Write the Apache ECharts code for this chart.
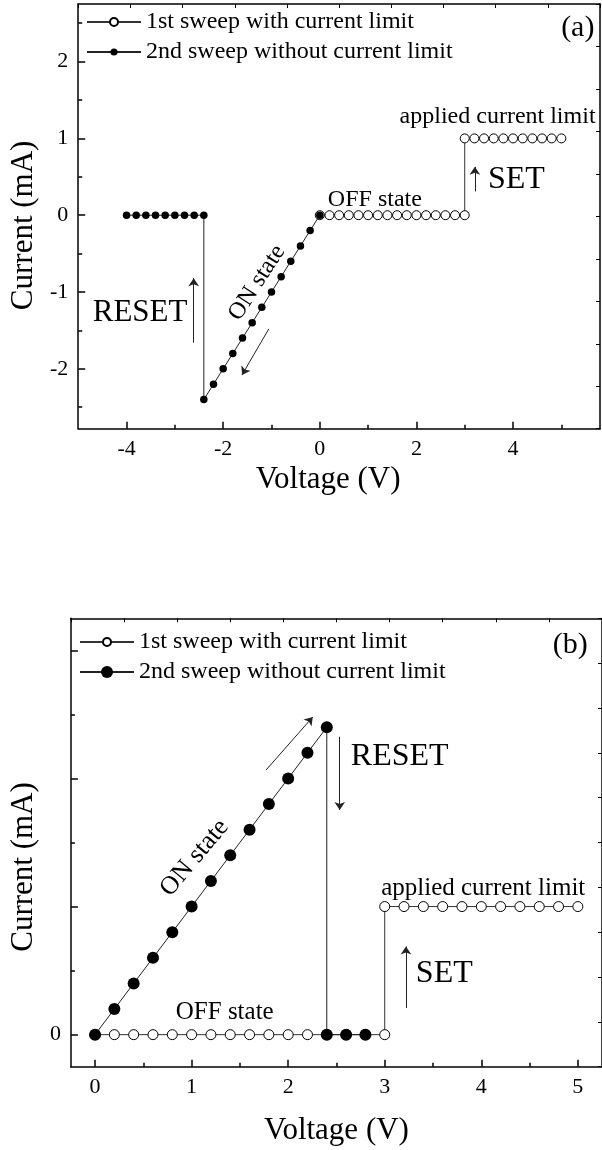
<!DOCTYPE html>
<html><head><meta charset="utf-8">
<script src="https://cdn.jsdelivr.net/npm/echarts@6/dist/echarts.min.js"></script>
<style>html,body{margin:0;padding:0;background:#fff}#c{width:602px;height:1150px}</style>
</head><body><div id="c"></div>
<script>
const SWEEP1 = '1st sweep with current limit';
const SWEEP2 = '2nd sweep without current limit';

// Panel (a)
const voltA1 = [0,0.2,0.4,0.6,0.8,1.0,1.2,1.4,1.6,1.8,2.0,2.2,2.4,2.6,2.8,3.0,3.0,3.2,3.4,3.6,3.8,4.0,4.2,4.4,4.6,4.8,5.0];
const currA1 = [0,0,0,0,0,0,0,0,0,0,0,0,0,0,0,0,1,1,1,1,1,1,1,1,1,1,1];
const voltA2 = [0,-0.2,-0.4,-0.6,-0.8,-1.0,-1.2,-1.4,-1.6,-1.8,-2.0,-2.2,-2.4,-2.4,-2.6,-2.8,-3.0,-3.2,-3.4,-3.6,-3.8,-4.0];
const currA2 = [0,-0.2,-0.4,-0.6,-0.8,-1.0,-1.2,-1.4,-1.6,-1.8,-2.0,-2.2,-2.4,0,0,0,0,0,0,0,0,0];

// Panel (b)
const voltB1 = [0,0.2,0.4,0.6,0.8,1.0,1.2,1.4,1.6,1.8,2.0,2.2,2.4,2.6,2.8,3.0,3.0,3.2,3.4,3.6,3.8,4.0,4.2,4.4,4.6,4.8,5.0];
const currB1 = [0,0,0,0,0,0,0,0,0,0,0,0,0,0,0,0,1,1,1,1,1,1,1,1,1,1,1];
const voltB2 = [0,0.2,0.4,0.6,0.8,1.0,1.2,1.4,1.6,1.8,2.0,2.2,2.4,2.4,2.6,2.8];
const currB2 = [0,0.2,0.4,0.6,0.8,1.0,1.2,1.4,1.6,1.8,2.0,2.2,2.4,0,0,0];

// Tick values
const xTicksA = [-4,-2,0,2,4];
const xMinorA = [-3,-1,1,3,5];
const yTicksA = [-2,-1,0,1,2];
const yMinorA = [-2.5,-1.5,-0.5,0.5,1.5,2.5];
const xTicksB = [0,1,2,3,4,5];
const xMinorB = [0.5,1.5,2.5,3.5,4.5];
const yTicksB = [0,1,2,3];
const yLabelsB = [0];
const yMinorB = [0.5,1.5,2.5];

const FONT = "'Liberation Serif','Times New Roman',serif";
const pairs = (xs, ys) => xs.map((v, i) => [v, ys[i]]);

function txt(text, x, y, size, rot) {
  return { coord: [x, y], symbolSize: 0,
    label: { show: true, formatter: text, fontSize: size, rotate: rot || 0, color: '#000',
             fontFamily: FONT, position: 'inside' } };
}
function arrow(x1, y1, x2, y2) { return [{ coord: [x1, y1] }, { coord: [x2, y2] }]; }

const annotA = [
  txt('OFF state', 1.14, 0.2, 24),
  txt('applied current limit', 3.68, 1.28, 24),
  txt('SET', 4.07, 0.46, 32),
  txt('RESET', -3.72, -1.27, 31),
  txt('ON state', -1.30, -0.88, 24, 57),
  txt('(a)', 5.34, 2.44, 30)
];
const arrowsA = [arrow(3.21, 0.31, 3.21, 0.63), arrow(-2.61, -1.66, -2.61, -0.82), arrow(-1.055, -1.48, -1.61, -2.08)];
const annotB = [
  txt('OFF state', 1.343, 0.171, 25),
  txt('applied current limit', 4.02, 1.143, 25),
  txt('SET', 3.617, 0.475, 32),
  txt('RESET', 3.155, 2.167, 32),
  txt('ON state', 1.03, 1.38, 26, 50),
  txt('(b)', 4.92, 3.04, 30)
];
const arrowsB = [arrow(2.534, 2.325, 2.534, 1.754), arrow(1.77, 2.065, 2.255, 2.48), arrow(3.22, 0.208, 3.22, 0.688)];

const axisLineStyle = { show: true, onZero: false, lineStyle: { color: '#000', width: 1.5 } };
const noLine = { show: false, onZero: false };
const labelStyle = { fontSize: 22, color: '#000', fontFamily: FONT, margin: 10 };

function mainX(grid, min, max, ticks, labels, gap, pad) {
  return { type: 'value', gridIndex: grid, min, max, position: 'bottom',
    axisLine: axisLineStyle, splitLine: { show: false },
    axisTick: { show: true, inside: true, length: 7, customValues: ticks, lineStyle: { color: '#000', width: 1.5 } },
    axisLabel: Object.assign({ customValues: labels }, labelStyle),
    name: 'Voltage (V)', nameLocation: 'middle', nameGap: gap,
    nameTextStyle: { fontSize: 31, color: '#000', fontFamily: FONT, padding: pad } };
}
function minorX(grid, min, max, ticks) {
  return { type: 'value', gridIndex: grid, min, max, position: 'bottom',
    axisLine: noLine, splitLine: { show: false }, axisLabel: { show: false },
    axisTick: { show: true, inside: true, length: 4, customValues: ticks, lineStyle: { color: '#000', width: 1.5 } } };
}
function frameX(grid) {
  return { type: 'value', gridIndex: grid, min: 0, max: 10, interval: 1, position: 'top',
    axisLine: axisLineStyle, splitLine: { show: false }, axisLabel: { show: false },
    axisTick: { show: true, inside: true, length: 4, lineStyle: { color: '#000', width: 1 } } };
}
function mainY(grid, min, max, ticks, labels, gap, pad) {
  return { type: 'value', gridIndex: grid, min, max, position: 'left',
    axisLine: axisLineStyle, splitLine: { show: false },
    axisTick: { show: true, inside: true, length: 7, customValues: ticks, lineStyle: { color: '#000', width: 1.5 } },
    axisLabel: Object.assign({ customValues: labels }, labelStyle),
    name: 'Current (mA)', nameLocation: 'middle', nameRotate: 90, nameGap: gap,
    nameTextStyle: { fontSize: 31, color: '#000', fontFamily: FONT, padding: pad } };
}
function minorY(grid, min, max, ticks) {
  return { type: 'value', gridIndex: grid, min, max, position: 'left',
    axisLine: noLine, splitLine: { show: false }, axisLabel: { show: false },
    axisTick: { show: true, inside: true, length: 4, customValues: ticks, lineStyle: { color: '#000', width: 1.5 } } };
}
function frameY(grid) {
  return { type: 'value', gridIndex: grid, min: 0, max: 10, interval: 1, position: 'right',
    axisLine: axisLineStyle, splitLine: { show: false }, axisLabel: { show: false },
    axisTick: { show: true, inside: true, length: 4, lineStyle: { color: '#000', width: 1 } } };
}
function legend(name, left, top, h) {
  return { data: [name], left, top, orient: 'vertical', padding: 0, itemWidth: 54, itemHeight: h,
    selectedMode: false, textStyle: { fontSize: 24, color: '#000', fontFamily: FONT } };
}
function openSeries(name, xi, data, size, marks, arrows) {
  return { type: 'line', name, xAxisIndex: xi, yAxisIndex: xi, data, symbol: 'circle', symbolSize: size,
    showSymbol: true, z: 2, itemStyle: { color: '#fff', borderColor: '#000', borderWidth: 1 },
    lineStyle: { color: '#333', width: 1 }, emphasis: { disabled: true },
    markPoint: { data: marks, symbol: 'circle', symbolSize: 0, silent: true },
    markLine: { data: arrows, symbol: ['none', 'arrow'], symbolSize: 8, silent: true,
      label: { show: false }, lineStyle: { color: '#222', width: 1, type: 'solid' } } };
}
function filledSeries(name, xi, data, size) {
  return { type: 'line', name, xAxisIndex: xi, yAxisIndex: xi, data, symbol: 'circle', symbolSize: size,
    showSymbol: true, z: 3, itemStyle: { color: '#000' }, lineStyle: { color: '#222', width: 1 },
    emphasis: { disabled: true } };
}

const chart = echarts.init(document.getElementById('c'), null, { renderer: 'canvas' });
chart.setOption({
  animation: false,
  backgroundColor: '#fff',
  grid: [
    { left: 78, top: 4, width: 522, height: 424.7 },
    { left: 63.3, top: 618.3, width: 553.7, height: 448.4 }
  ],
  legend: [
    legend(SWEEP1, 86, 10, 10),
    legend(SWEEP2, 86, 40, 9),
    legend(SWEEP1, 79, 630, 10),
    legend(SWEEP2, 79, 660, 15)
  ],
  xAxis: [
    mainX(0, -5, 5.8, xTicksA, xTicksA, 36, [0, 22, 0, 0]),
    minorX(0, -5, 5.8, xMinorA),
    frameX(0),
    mainX(1, -0.25, 5.25, xTicksB, xTicksB, 49, 0),
    minorX(1, -0.25, 5.25, xMinorB),
    frameX(1)
  ],
  yAxis: [
    mainY(0, -2.78, 2.75, yTicksA, yTicksA, 29, [0, 18, 0, 0]),
    minorY(0, -2.78, 2.75, yMinorA),
    frameY(0),
    mainY(1, -0.25, 3.25, yTicksB, yLabelsB, 15, [0, 49, 0, 0]),
    minorY(1, -0.25, 3.25, yMinorB),
    frameY(1)
  ],
  series: [
    openSeries(SWEEP1, 0, pairs(voltA1, currA1), 9, annotA, arrowsA),
    filledSeries(SWEEP2, 0, pairs(voltA2, currA2), 7.5),
    openSeries(SWEEP1, 3, pairs(voltB1, currB1), 10, annotB, arrowsB),
    filledSeries(SWEEP2, 3, pairs(voltB2, currB2), 12)
  ]
});
</script></body></html>
